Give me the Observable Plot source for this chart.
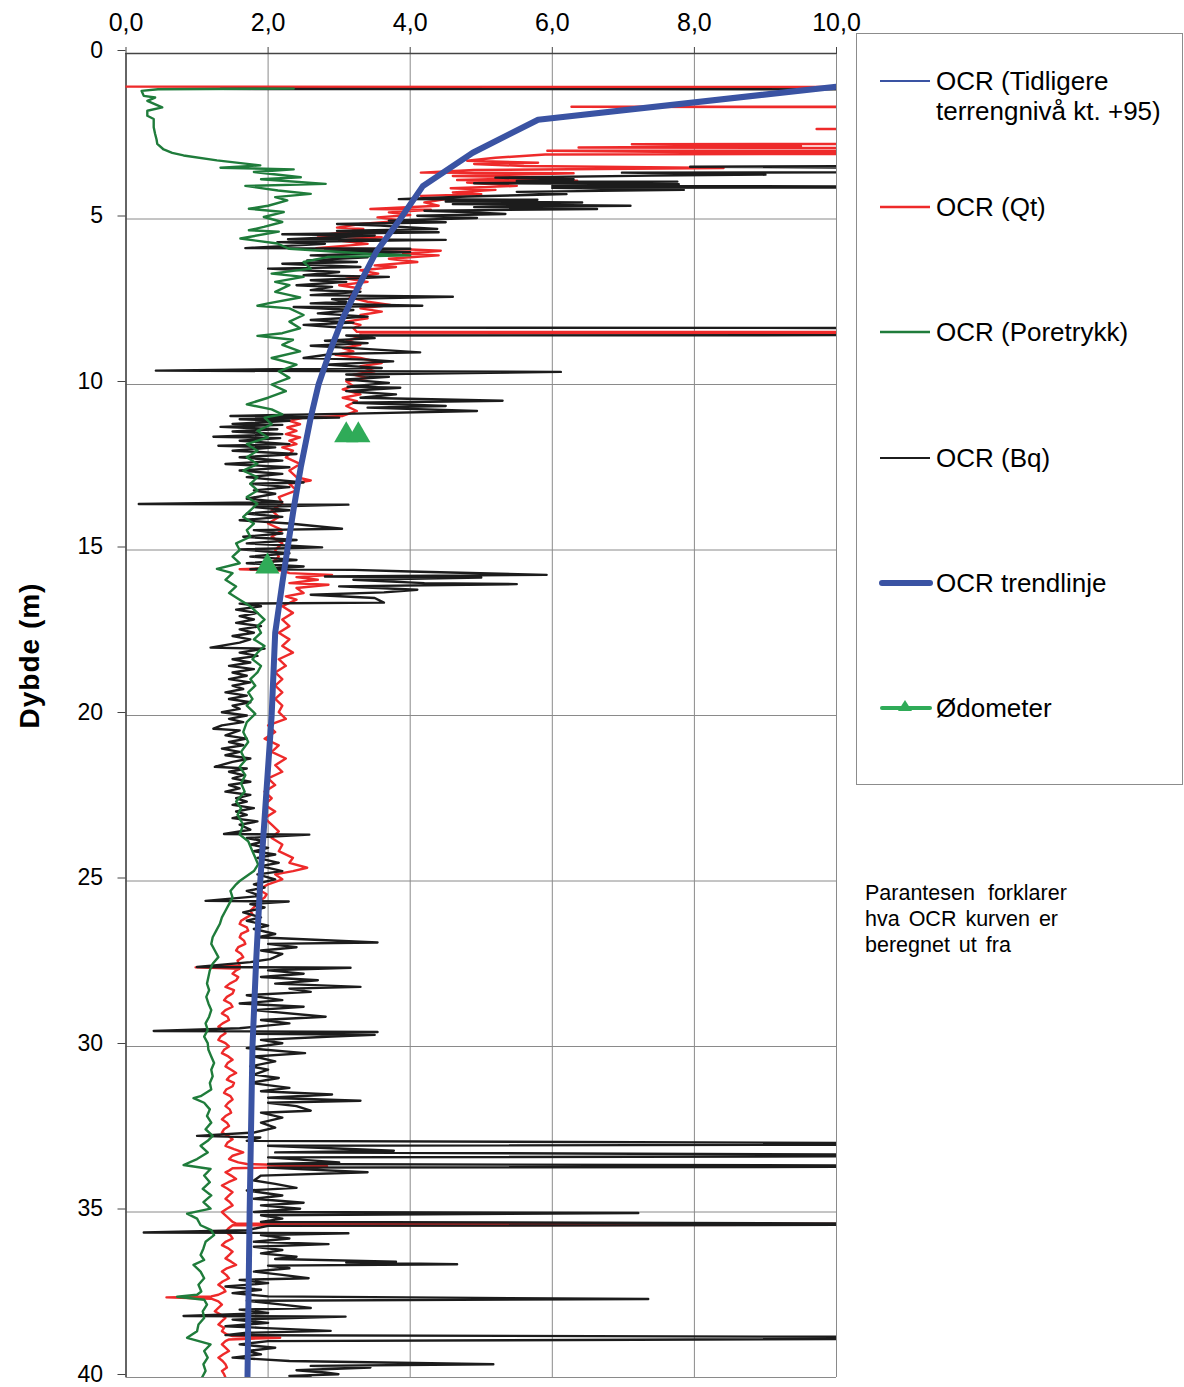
<!DOCTYPE html>
<html><head><meta charset="utf-8">
<script src="https://cdn.jsdelivr.net/npm/d3@7"></script>
<script src="https://cdn.jsdelivr.net/npm/@observablehq/plot@0.6"></script>
<style>
body{margin:0;background:#fff;font-family:"Liberation Sans",Arial,sans-serif;color:#000;}
#wrap{position:relative;width:1184px;height:1387px;overflow:hidden;}
#chart{position:absolute;left:0;top:0;}
#legend{position:absolute;left:856px;top:33px;width:327px;height:752px;border:1px solid #8c8c8c;box-sizing:border-box;}
.lt{position:absolute;left:936px;font-size:26px;line-height:30px;white-space:nowrap;}
.sw{position:absolute;left:876px;}
#note{position:absolute;left:865px;top:880px;font-size:21.5px;line-height:26px;word-spacing:3px;white-space:nowrap;}
</style></head>
<body>
<div id="wrap">
  <div id="chart"></div>
  <div id="legend"></div>
  <div id="note"><span style="word-spacing:7px">Parantesen forklarer</span><br>hva OCR kurven er<br>beregnet ut fra</div>
</div>
<script>
// ---- axis ticks ----
const xTicks = [0, 2, 4, 6, 8, 10];
const yTicks = [0, 5, 10, 15, 20, 25, 30, 35, 40];

// ---- series: [depth (m), OCR] ----
const ocrQt = [
[1.0,0],[1.02,15],[1.6,15],[1.61,6.27],[1.63,15],[2.27,15],[2.28,9.72],[2.3,15],[2.72,15],[2.74,7.12],[2.8,9.5],[2.84,6.37],[2.87,15],[2.92,15],[2.94,5.93],[3.0,9],[3.02,15],[3.05,5.9],[3.15,5.2],[3.24,4.8],[3.3,5.8],[3.34,4.9],[3.4,5.6],[3.46,8.41],[3.52,4.9],[3.6,4.15],[3.62,6.3],[3.7,4.6],[3.75,6.0],[3.82,4.66],[3.84,6.35],[3.9,4.8],[4.0,5.5],[4.07,4.57],[4.12,5.2],[4.2,4.6],[4.25,5.0],[4.3,4.15],[4.4,4.5],[4.5,4.2],[4.6,4.4],[4.7,3.44],[4.72,4.29],[4.8,3.7],[4.88,4.0],[4.95,3.54],[5.05,3.9],[5.15,3.3],[5.26,2.97],[5.3,3.34],[5.4,3.1],[5.5,2.7],[5.55,3.6],[5.65,3.0],[5.75,3.4],[5.88,2.68],[5.92,4.0],[5.96,4.43],[6.05,3.9],[6.1,4.4],[6.2,3.7],[6.3,4.1],[6.4,3.5],[6.45,3.8],[6.55,3.3],[6.65,3.55],[6.8,3.1],[6.9,3.4],[7.0,3.0],[7.1,3.3],[7.2,3.2],[7.37,3.15],[7.5,3.4],[7.6,3.72],[7.7,3.3],[7.8,3.6],[7.9,3.3],[8.0,3.4],[8.1,3.1],[8.2,3.3],[8.3,3.2],[8.41,3.25],[8.42,15],[8.44,15],[8.46,3.3],[8.55,3.3],[8.7,3.1],[8.8,3.3],[8.9,3.05],[9.0,3.2],[9.1,2.95],[9.2,3.3],[9.35,3.6],[9.45,3.3],[9.6,3.5],[9.7,3.2],[9.8,3.4],[9.9,3.1],[10.05,3.2],[10.15,3.05],[10.3,3.3],[10.4,3.05],[10.5,3.25],[10.65,3.1],[10.8,3.25],[10.95,3.05],
[11.0,2.5],[11.1,2.3],[11.2,2.45],[11.3,2.27],[11.4,2.4],[11.5,2.25],[11.6,2.45],[11.7,2.3],[11.8,2.4],[11.9,2.2],[12.0,2.35],[12.2,2.25],[12.4,2.45],[12.6,2.3],[12.8,2.4],[12.9,2.6],[13.0,2.3],[13.2,2.4],[13.4,2.15],[13.6,2.2],[13.8,2.05],[14.0,2.15],[14.2,2.0],[14.4,2.2],[14.6,2.05],[14.8,2.2],[15.0,2.1],[15.2,2.15],[15.4,2.05],[15.55,2.1],[15.58,1.6],[15.62,2.2],[15.7,2.3],[15.75,2.9],[15.82,2.4],[15.9,2.7],[16.0,2.3],[16.05,2.85],[16.15,2.4],[16.3,2.5],[16.4,2.25],[16.5,2.4],[16.7,2.2],[16.9,2.35],[17.1,2.2],[17.3,2.3],[17.5,2.15],[17.7,2.3],[17.9,2.2],[18.1,2.35],[18.3,2.15],[18.5,2.25],[18.7,2.1],[18.9,2.2],[19.1,2.1],[19.3,2.2],[19.5,2.1],
[19.7,2.2],[19.9,2.15],[20.1,2.25],[20.3,2.0],[20.5,2.1],[20.7,1.95],[20.9,2.15],[21.1,2.05],[21.3,2.25],[21.5,2.1],[21.7,2.2],[21.9,2.0],[22.1,2.1],[22.3,1.95],[22.5,2.05],[22.7,1.95],[22.9,2.1],[23.1,1.95],[23.3,2.05],[23.5,2.15],[23.7,2.05],[23.9,2.2],[24.1,2.15],[24.3,2.35],[24.45,2.3],[24.6,2.55],[24.7,2.35],[24.8,2.1],[24.95,2.2],
[25.1,2.0],[25.2,1.92],[25.3,1.9],[25.4,1.98],[25.5,1.95],[25.6,1.88],[25.7,1.85],[25.8,1.8],[25.9,1.75],[26.0,1.78],[26.1,1.7],[26.2,1.62],[26.3,1.6],[26.4,1.7],[26.5,1.72],[26.6,1.62],[26.7,1.6],[26.8,1.66],[26.9,1.68],[27.0,1.58],[27.1,1.55],[27.2,1.62],[27.3,1.65],[27.4,1.57],[27.55,1.6],[27.61,0.98],[27.65,1.6],[27.7,1.55],[27.8,1.5],[27.9,1.58],[28.0,1.55],[28.1,1.46],[28.2,1.4],[28.3,1.52],[28.4,1.5],[28.5,1.42],[28.6,1.38],[28.7,1.47],[28.8,1.5],[28.9,1.4],[29.0,1.35],[29.1,1.43],[29.2,1.45],[29.3,1.36],[29.4,1.3],[29.5,1.38],[29.6,1.4],[29.7,1.33],[29.8,1.3],[29.9,1.4],[30.0,1.45],[30.1,1.38],[30.2,1.35],[30.3,1.44],[30.4,1.5],[30.5,1.43],[30.6,1.4],[30.7,1.48],[30.8,1.55],[30.9,1.46],[31.0,1.42],[31.1,1.52],[31.2,1.5],[31.3,1.41],[31.4,1.38],[31.5,1.47],[31.6,1.5],[31.7,1.44],[31.8,1.4],[31.9,1.46],[32.0,1.48],[32.1,1.4],[32.2,1.35],[32.3,1.42],[32.4,1.45],[32.5,1.38],[32.6,1.35],[32.7,1.44],[32.8,1.5],[32.9,1.43],[33.0,1.4],[33.1,1.52],[33.2,1.65],[33.3,1.5],[33.4,1.45],[33.5,1.58],[33.55,1.7],[33.62,2.83],[33.68,1.5],[33.75,1.45],[33.8,1.4],[33.9,1.48],[34.0,1.55],[34.1,1.44],[34.2,1.35],[34.3,1.43],[34.4,1.5],[34.5,1.45],[34.6,1.4],[34.7,1.46],[34.8,1.5],[34.9,1.42],[35.0,1.35],[35.1,1.4],[35.2,1.45],[35.3,1.5],[35.35,1.55],[35.37,15],[35.4,1.5],[35.5,1.44],[35.6,1.4],[35.7,1.47],[35.8,1.5],[35.9,1.4],[36.0,1.35],[36.1,1.44],[36.2,1.5],[36.3,1.45],[36.4,1.4],[36.5,1.48],[36.6,1.55],[36.7,1.42],[36.8,1.35],[36.9,1.41],[37.0,1.45],[37.1,1.36],[37.2,1.3],[37.3,1.37],[37.4,1.4],[37.5,1.3],[37.55,1.2],[37.58,0.57],[37.62,1.2],[37.7,1.3],[37.8,1.35],[37.9,1.3],[38.0,1.25],[38.1,1.33],[38.2,1.4],[38.3,1.35],[38.4,1.3],[38.5,1.38],[38.6,1.35],[38.7,1.42],[38.75,1.5],[38.8,2.17],[38.85,1.45],[38.9,1.4],[39.0,1.35],[39.1,1.4],[39.2,1.45],[39.3,1.37],[39.4,1.3],[39.5,1.36],[39.6,1.4],[39.7,1.42],[39.8,1.35],[39.9,1.38],[40.0,1.4]
];

const ocrBq = [
[1.07,1.33],[1.09,15],[3.38,15],[3.42,7.94],[3.5,15],[3.58,15],[3.6,6.98],[3.66,9.0],[3.69,7.4],[3.75,5.2],[3.8,6.3],[3.85,5.5],[3.87,7.76],[3.92,4.9],[3.95,7.78],[4.0,6.0],[4.03,15],[4.06,6.0],[4.12,7.85],[4.18,5.5],[4.25,6.2],[4.32,4.8],[4.4,3.84],[4.42,5.79],[4.47,4.5],[4.5,6.42],[4.55,4.6],[4.6,7.1],[4.64,4.9],[4.7,6.63],[4.75,4.2],[4.8,4.9],[4.85,5.34],[4.9,4.1],[4.97,4.94],[5.05,3.7],[5.1,4.5],[5.15,2.97],[5.2,3.58],[5.3,4.38],[5.36,2.97],[5.4,4.4],[5.46,2.2],[5.5,3.5],[5.61,2.28],[5.63,4.5],[5.7,2.13],[5.75,2.8],[5.88,1.68],[5.9,4.0],[5.96,2.8],[6.0,4.0],[6.1,2.6],[6.16,3.4],[6.25,2.55],[6.3,3.25],[6.35,2.2],[6.45,3.3],[6.5,2.0],[6.6,3.0],[6.7,2.5],[6.75,3.7],[6.85,2.6],[6.9,3.1],[7.0,2.4],[7.05,2.9],[7.15,2.6],[7.2,3.3],[7.3,2.6],[7.35,4.6],[7.42,2.9],[7.5,3.1],[7.55,2.6],[7.62,4.17],[7.66,2.36],[7.75,3.2],[7.85,2.7],[7.95,3.4],[8.05,2.6],[8.13,3.2],[8.2,2.5],[8.28,3.0],[8.3,15],[8.5,15],[8.52,3.1],[8.6,3.5],[8.68,2.8],[8.75,3.4],[8.83,2.6],[8.9,3.2],[9.03,4.14],[9.08,2.9],[9.2,2.5],[9.25,3.4],[9.3,3.76],[9.4,2.8],[9.5,3.6],[9.58,0.42],[9.62,6.12],[9.7,3.1],[9.77,3.7],[9.85,3.1],[9.95,3.7],[10.07,3.12],[10.1,3.86],[10.2,3.1],[10.3,3.8],[10.4,3.3],[10.49,5.3],[10.55,3.2],[10.65,4.5],[10.7,3.4],[10.8,4.94],[10.88,3.2],[10.95,1.47],[11.0,3.0],[11.05,1.6],[11.1,2.3],[11.19,1.5],[11.22,2.2],[11.28,1.33],[11.35,2.13],[11.42,1.5],[11.5,2.2],[11.58,1.23],[11.62,2.17],[11.7,1.6],[11.8,2.3],[11.85,1.3],[11.9,2.1],[12.0,1.5],[12.1,2.4],[12.2,1.6],[12.3,2.2],[12.4,1.4],[12.5,2.3],[12.6,1.6],[12.7,2.2],[12.8,1.7],[12.96,2.5],[13.0,1.75],[13.1,2.3],[13.2,1.8],[13.3,2.1],[13.45,1.7],[13.55,2.2],[13.61,0.18],[13.63,3.13],[13.7,1.8],[13.8,2.3],[13.9,1.7],[14.0,2.2],[14.1,1.6],[14.2,2.3],[14.36,3.04],[14.4,1.8],[14.5,2.2],[14.6,1.65],[14.7,2.4],[14.8,1.7],[14.92,2.76],[14.98,1.6],[15.1,2.3],[15.2,1.75],[15.3,2.4],[15.4,1.7],[15.5,2.5],[15.58,1.75],[15.6,3.2],[15.65,4.0],[15.75,5.92],[15.8,2.8],[15.83,5.0],[15.9,3.2],[16.0,4.2],[16.03,5.5],[16.1,3.0],[16.2,4.1],[16.28,3.63],[16.35,2.6],[16.45,3.5],[16.59,3.63],[16.62,1.6],[16.7,1.9],[16.8,1.55],[16.9,1.85],[17.0,1.6],[17.1,1.8],[17.2,1.55],[17.3,1.9],[17.4,1.6],[17.5,1.8],[17.6,1.5],[17.7,1.75],[17.8,1.6],[17.95,1.19],[17.98,1.95],[18.1,1.6],[18.2,1.85],[18.3,1.5],[18.4,1.75],[18.5,1.45],[18.6,1.8],[18.7,1.5],[18.8,1.7],[18.9,1.45],[19.0,1.75],[19.1,1.5],[19.2,1.65],[19.3,1.4],[19.4,1.7],[19.5,1.45],[19.6,1.75],[19.7,1.5],[19.8,1.6],[19.9,1.35],[20.0,1.7],[20.1,1.45],[20.2,1.65],[20.3,1.35],[20.4,1.23],[20.45,1.6],[20.6,1.4],[20.7,1.7],[20.8,1.45],[20.9,1.65],[21.0,1.35],[21.1,1.6],[21.2,1.4],[21.3,1.75],[21.4,1.5],[21.55,1.25],[21.6,1.7],[21.7,1.45],[21.8,1.65],[21.9,1.5],[22.0,1.75],[22.1,1.45],[22.2,1.6],[22.3,1.4],[22.4,1.75],[22.5,1.55],[22.6,1.7],[22.7,1.5],[22.8,1.8],[22.9,1.55],[23.0,1.7],[23.1,1.5],[23.2,1.85],[23.3,1.6],[23.45,1.75],[23.58,1.38],[23.6,2.58],[23.7,1.7],[23.8,1.95],[23.9,1.75],[24.0,2.0],[24.1,1.8],[24.2,2.1],[24.3,1.85],[24.45,2.15],[24.55,1.9],[24.7,2.2],[24.8,1.85],[24.95,2.1],[25.1,1.8],[25.2,1.95],[25.3,1.7],[25.45,1.9],[25.6,1.12],[25.62,2.29],[25.7,1.75],[25.8,1.95],[25.95,1.65],[26.1,1.9],[26.2,1.7],[26.35,2.0],[26.45,1.8],[26.6,2.1],[26.7,1.85],[26.86,3.54],[26.9,2.0],[27.0,2.4],[27.1,1.9],[27.2,2.2],[27.36,2.03],[27.45,1.75],[27.6,1.0],[27.62,3.16],[27.7,2.0],[27.8,2.5],[27.9,1.9],[28.0,2.7],[28.1,2.1],[28.2,3.3],[28.25,2.3],[28.35,2.6],[28.45,1.7],[28.6,2.2],[28.7,1.6],[28.8,2.5],[28.9,1.8],[29.1,2.81],[29.2,1.9],[29.3,2.3],[29.45,1.6],[29.53,0.39],[29.56,3.54],[29.62,1.8],[29.65,3.5],[29.7,2.9],[29.8,1.9],[29.9,2.2],[30.05,1.7],[30.2,2.52],[30.3,1.8],[30.45,2.1],[30.6,1.75],[30.7,2.0],[30.85,1.8],[30.95,2.15],[31.1,1.75],[31.25,2.3],[31.35,1.9],[31.45,2.9],[31.55,2.0],[31.64,3.3],[31.7,2.0],[31.8,2.4],[31.94,2.6],[32.0,1.9],[32.15,2.2],[32.3,1.9],[32.45,2.1],[32.6,1.8],[32.7,1.0],[32.75,1.89],[32.85,1.7],[32.95,15],[33.0,2.0],[33.15,3.77],[33.2,2.1],[33.3,15],[33.35,2.0],[33.5,3.0],[33.55,2.0],[33.62,15],[33.66,2.0],[33.8,3.4],[33.9,1.9],[34.05,1.8],[34.15,2.1],[34.27,2.4],[34.35,1.7],[34.5,2.2],[34.6,1.8],[34.72,2.5],[34.8,1.9],[34.9,2.45],[35.0,1.8],[35.03,7.21],[35.1,1.9],[35.2,2.2],[35.3,1.9],[35.37,15],[35.42,2.0],[35.55,1.7],[35.62,0.25],[35.64,3.13],[35.7,1.9],[35.8,2.3],[35.9,1.8],[35.97,2.85],[36.05,1.8],[36.15,2.2],[36.25,1.9],[36.35,2.4],[36.42,2.1],[36.5,3.8],[36.53,3.1],[36.58,4.66],[36.62,2.0],[36.7,2.3],[36.8,1.8],[36.9,2.2],[37.0,2.57],[37.05,1.6],[37.15,2.0],[37.25,1.4],[37.35,1.9],[37.45,1.5],[37.55,2.0],[37.63,7.35],[37.68,1.7],[37.8,2.2],[37.9,2.6],[37.95,1.6],[38.05,2.0],[38.14,0.81],[38.16,3.09],[38.25,1.5],[38.35,2.0],[38.45,1.4],[38.5,1.9],[38.59,2.88],[38.65,1.7],[38.72,1.4],[38.8,15],[38.9,2.0],[39.0,1.6],[39.1,2.1],[39.2,1.7],[39.3,1.9],[39.4,1.5],[39.5,2.3],[39.6,5.17],[39.65,2.6],[39.7,3.44],[39.78,2.4],[39.85,2.8],[39.9,2.99],[39.95,2.3],[40.0,2.6]
];

const ocrPoretrykk = [
[1.06,2.36],[1.08,0.45],[1.13,0.22],[1.28,0.25],[1.33,0.41],[1.43,0.30],[1.63,0.51],[1.73,0.30],[1.88,0.30],[1.98,0.39],[2.23,0.39],[2.43,0.41],[2.6,0.43],[2.73,0.44],[2.9,0.53],[3.0,0.65],[3.08,0.81],[3.23,1.28],[3.38,1.89],[3.45,1.33],[3.5,2.36],[3.58,1.80],[3.74,2.46],[3.8,1.9],[3.94,2.81],[4.0,1.68],[4.14,2.14],[4.24,2.60],[4.34,2.1],[4.44,2.27],[4.6,2.0],[4.69,1.73],[4.79,2.22],[4.94,1.94],[5.09,2.20],[5.24,1.94],[5.34,1.73],[5.38,2.15],[5.59,1.61],[5.74,2.13],[5.9,2.3],[6.05,3.4],[6.1,4.0],[6.15,2.83],[6.3,2.5],[6.5,2.6],[6.65,2.05],[6.75,2.5],[6.9,2.1],[7.0,2.3],[7.2,2.1],[7.37,2.45],[7.55,2.0],[7.62,1.85],[7.7,2.3],[7.9,2.5],[8.1,2.3],[8.3,2.45],[8.45,2.2],[8.53,1.85],[8.65,2.35],[8.8,2.2],[9.0,2.45],[9.2,2.05],[9.4,2.4],[9.6,2.15],[9.8,2.3],[10.0,2.05],[10.2,2.25],[10.4,2.0],[10.6,1.7],[10.75,2.05],[10.9,2.2],[11.0,1.95],[11.2,2.05],[11.4,1.85],[11.6,2.0],[11.8,1.7],[12.0,1.85],[12.2,1.7],[12.4,1.85],[12.6,1.65],[12.8,1.85],[13.0,1.75],[13.2,1.85],[13.4,1.7],[13.6,1.85],[13.8,1.75],[14.0,1.65],[14.2,1.8],[14.4,1.7],[14.6,1.75],[14.8,1.55],[15.0,1.6],[15.2,1.5],[15.4,1.6],[15.57,1.28],[15.7,1.5],[15.9,1.4],[16.1,1.55],[16.3,1.45],[16.5,1.6],[16.7,1.75],[16.9,1.85],[17.1,1.95],[17.3,1.85],[17.5,1.9],[17.7,1.8],[17.9,1.95],[18.1,1.85],[18.3,1.78],[18.5,1.9],[18.7,1.85],[18.9,1.75],[19.1,1.82],[19.3,1.72],[19.5,1.78],[19.7,1.7],[19.95,1.82],[20.2,1.7],[20.5,1.65],[20.8,1.72],[21.1,1.62],[21.35,1.68],[21.55,1.6],[21.8,1.68],[22.05,1.62],[22.3,1.67],[22.6,1.55],[22.8,1.62],[23.0,1.57],[23.3,1.65],[23.6,1.6],[23.8,1.72],[24.1,1.78],[24.3,1.82],[24.5,1.86],[24.7,1.8],[24.85,1.7],[25.0,1.6],[25.1,1.55],[25.3,1.47],[25.5,1.5],[25.7,1.45],[25.9,1.4],[26.1,1.35],[26.3,1.32],[26.5,1.27],[26.7,1.22],[26.9,1.2],[27.1,1.25],[27.3,1.3],[27.5,1.22],[27.7,1.18],[27.9,1.16],[28.1,1.14],[28.3,1.17],[28.5,1.13],[28.7,1.16],[28.9,1.2],[29.1,1.17],[29.3,1.12],[29.5,1.15],[29.7,1.1],[29.9,1.15],[30.1,1.16],[30.3,1.2],[30.5,1.24],[30.7,1.2],[30.9,1.22],[31.1,1.18],[31.3,1.2],[31.5,1.05],[31.56,0.95],[31.7,1.1],[31.9,1.18],[32.1,1.14],[32.3,1.2],[32.5,1.12],[32.7,1.22],[32.85,1.15],[33.0,1.05],[33.2,1.15],[33.4,1.0],[33.58,0.81],[33.7,1.19],[33.9,1.1],[34.1,1.18],[34.3,1.08],[34.5,1.2],[34.7,1.09],[34.9,1.19],[35.05,0.86],[35.2,1.0],[35.4,1.05],[35.55,1.2],[35.7,1.24],[35.9,1.12],[36.1,1.09],[36.3,1.05],[36.45,1.1],[36.6,0.95],[36.8,1.05],[37.0,1.1],[37.2,1.02],[37.4,1.06],[37.5,1.0],[37.56,0.72],[37.65,1.1],[37.8,1.14],[38.0,1.08],[38.2,1.1],[38.4,1.02],[38.6,1.0],[38.8,0.86],[39.0,1.19],[39.2,1.1],[39.4,1.15],[39.6,1.09],[39.8,1.12],[40.0,1.07]
];

const trendDepth = [1, 2, 3, 4, 5, 6, 7, 8, 9, 10, 11, 12.5, 13.75, 15, 16, 17.5, 20, 22.5, 25, 27.5, 30, 35, 40];
const trendOCR   = [10, 5.8, 4.88, 4.18, 3.86, 3.52, 3.28, 3.05, 2.87, 2.71, 2.6, 2.46, 2.36, 2.27, 2.2, 2.1, 2.05, 1.97, 1.89, 1.83, 1.78, 1.74, 1.71];

const odoDepth = [11.53, 11.53, 15.5];
const odoOCR   = [3.1, 3.27, 1.99];

// ---- colours ----
const cRed = "#ee2a2a", cBlack = "#1c1c1c", cGreen = "#1f7c3b", cBlue = "#3a53a3", cOdo = "#2fab58";

const toRows = arr => arr.map(([d, v]) => ({depth: d, ocr: v}));
const qtRows = toRows(ocrQt), bqRows = toRows(ocrBq), prRows = toRows(ocrPoretrykk);
const trendRows = trendDepth.map((d, i) => ({depth: d, ocr: trendOCR[i]}));
const odoRows = odoDepth.map((d, i) => ({depth: d, ocr: odoOCR[i]}));

const fmt = d => d.toFixed(1).replace(".", ",");

const chart = Plot.plot({
  width: 850,
  height: 1387,
  marginTop: 53,
  marginLeft: 125.5,
  marginRight: 14,
  marginBottom: 10,
  style: {fontFamily: '"Liberation Sans", Arial, sans-serif', fontSize: "24px", color: "#000", background: "transparent", overflow: "visible"},
  x: {domain: [0, 10]},
  y: {domain: [0, 40], reverse: true},
  marks: [
    Plot.gridX(xTicks, {stroke: "#8a8a8a", strokeOpacity: 1, strokeWidth: 1}),
    Plot.gridY(yTicks, {stroke: "#8a8a8a", strokeOpacity: 1, strokeWidth: 1}),
    Plot.ruleX([0], {stroke: "#444", strokeWidth: 1.5}),
    Plot.ruleY([0], {stroke: "#444", strokeWidth: 1.5}),
    Plot.axisX(xTicks, {anchor: "top", tickSize: 7, tickPadding: 16, fontSize: 25, tickFormat: fmt, label: null, stroke: "#444"}),
    Plot.axisY(yTicks, {anchor: "left", tickSize: 8, tickPadding: 15, fontSize: 23, dy: -3, label: null, stroke: "#444"}),
    Plot.line(qtRows, {x: "ocr", y: "depth", stroke: cRed, strokeWidth: 2.4, clip: true}),
    Plot.line(bqRows, {x: "ocr", y: "depth", stroke: cBlack, strokeWidth: 2.4, clip: true}),
    Plot.line(prRows, {x: "ocr", y: "depth", stroke: cGreen, strokeWidth: 2.4, clip: true}),
    Plot.line(trendRows, {x: "ocr", y: "depth", stroke: cBlue, strokeWidth: 6, clip: true}),
    Plot.dot(odoRows, {x: "ocr", y: "depth", symbol: "triangle", r: 9, fill: cOdo, stroke: "none"}),
    Plot.text(["Dybde (m)"], {frameAnchor: "left", textAnchor: "middle", dx: -96, dy: -60, rotate: -90, fontSize: 28, fontWeight: "bold", text: d => d})
  ]
});
d3.select(chart).selectAll("g[aria-label='text'] text").style("letter-spacing", "1px");
document.getElementById("chart").appendChild(chart);

// ---- legend (HTML) ----
const legendItems = [
  {label: "OCR (Tidligere<br>terrengnivå kt. +95)", y: 81, color: cBlue, w: 2},
  {label: "OCR (Qt)", y: 207, color: cRed, w: 2.5},
  {label: "OCR (Poretrykk)", y: 332, color: cGreen, w: 2.5},
  {label: "OCR (Bq)", y: 458, color: cBlack, w: 2},
  {label: "OCR trendlinje", y: 583, color: cBlue, w: 6},
  {label: "Ødometer", y: 708, color: cOdo, w: 4, marker: true}
];
const wrap = document.getElementById("wrap");
legendItems.forEach(it => {
  const sw = document.createElementNS("http://www.w3.org/2000/svg", "svg");
  sw.setAttribute("class", "sw");
  sw.setAttribute("width", 60); sw.setAttribute("height", 20);
  sw.style.top = (it.y - 10) + "px";
  const cap = it.w >= 4 ? "round" : "butt";
  sw.innerHTML = `<line x1="${it.w >= 4 ? 6 : 4}" x2="54" y1="10" y2="10" stroke="${it.color}" stroke-width="${it.w}" stroke-linecap="${cap}"/>` +
    (it.marker ? `<path d="M29,2 L36,13 L22,13 Z" fill="${it.color}"/>` : "");
  wrap.appendChild(sw);
  const t = document.createElement("div");
  t.className = "lt";
  t.style.top = (it.y - 15) + "px";
  t.innerHTML = it.label;
  wrap.appendChild(t);
});
</script>
</body></html>
